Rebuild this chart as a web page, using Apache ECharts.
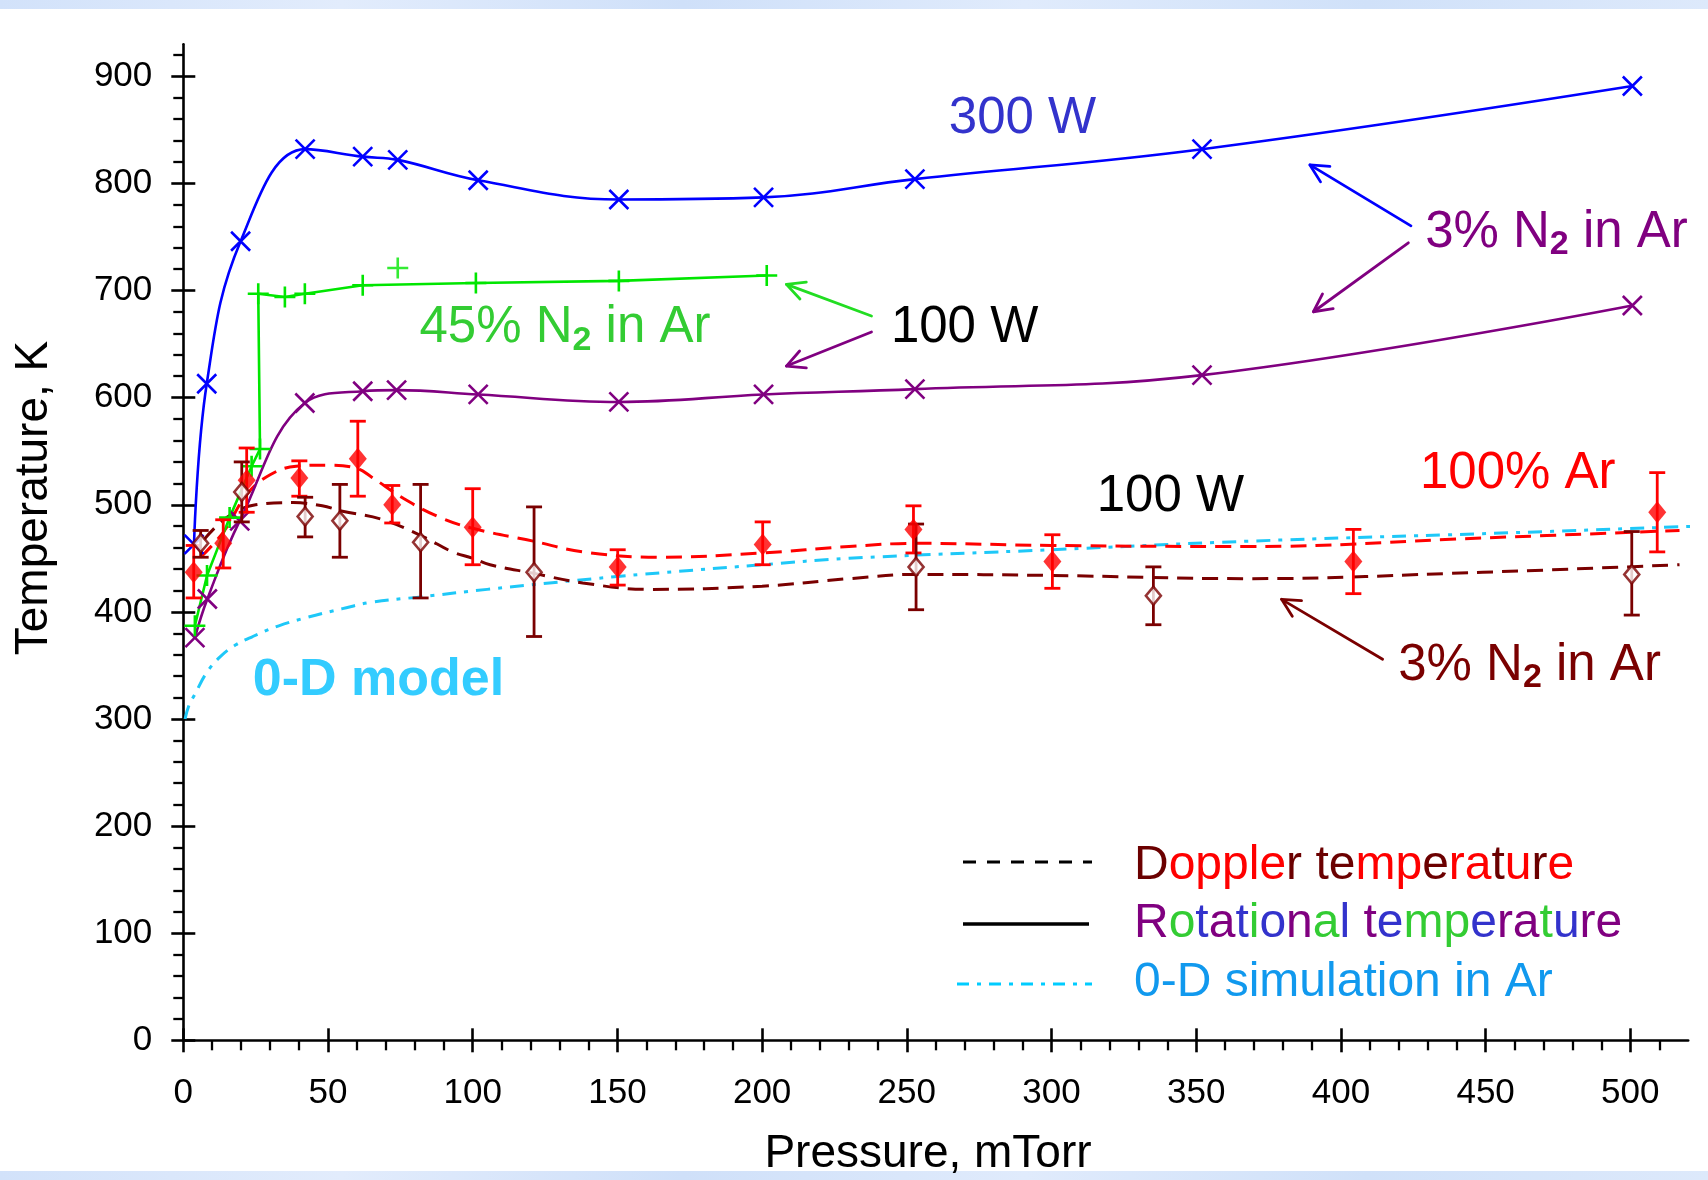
<!DOCTYPE html>
<html>
<head>
<meta charset="utf-8">
<title>Gas temperature vs pressure</title>
<script src="https://cdn.jsdelivr.net/npm/echarts@6/dist/echarts.min.js"></script>
<style>
  html, body { margin: 0; padding: 0; background: #fff; }
  #chart { width: 1708px; height: 1180px; }
</style>
</head>
<body>
<div id="chart"></div>
<script>
// ---- Axis ticks ----
const pressureTicks = [0, 50, 100, 150, 200, 250, 300, 350, 400, 450, 500];
const temperatureTicks = [0, 100, 200, 300, 400, 500, 600, 700, 800, 900];

// ---- Rotational temperature, 300 W, 3% N2 in Ar ----
const rot300Pressure = [3.7, 8.1, 19.8, 42.1, 62.0, 74.1, 101.9, 150.5, 200.5, 252.8, 352, 500.7];
const rot300Temp     = [463, 613, 746, 832, 825, 822, 803, 785, 787, 804, 832, 891];

// ---- Rotational temperature, 100 W, 3% N2 in Ar ----
const rot100Pressure = [4.0, 8.3, 19.5, 42.0, 62.0, 73.7, 101.9, 150.5, 200.5, 252.8, 352, 500.7];
const rot100Temp     = [376, 412, 485, 595, 606, 607, 603, 596, 603, 608, 621, 686];

// ---- Rotational temperature, 100 W, 45% N2 in Ar ----
const rot45Pressure = [4.0, 8.2, 16.0, 23.6, 26.5, 25.9, 35.1, 42.0, 62.0, 101.1, 150.5, 201.6];
const rot45Temp     = [387, 434, 488, 536, 552, 697, 694, 697, 705, 707, 709, 714];
const rot45ExtraPressure = [74.1];
const rot45ExtraTemp     = [721];

// ---- Doppler temperature, 100 W, 100% Ar (with error bars) ----
const dopArPressure = [3.6, 13.8, 21.9, 40.1, 60.3, 72.2, 100, 150.1, 200.2, 252.3, 300.3, 404.3, 509.3];
const dopArTemp     = [437, 464, 523, 525, 543, 500, 479, 442, 463, 477, 447, 447, 493];
const dopArLow      = [413, 441, 493, 508, 508, 483, 444, 425, 444, 455, 422, 417, 456];
const dopArHigh     = [462, 486, 553, 541, 578, 518, 515, 458, 484, 499, 472, 477, 530];

// ---- Doppler temperature, 100 W, 3% N2 in Ar (with error bars) ----
const dopN2Pressure = [6.0, 20.2, 42.1, 54.1, 82, 121.2, 253.2, 335.2, 500.5];
const dopN2Temp     = [464, 512, 489, 485, 465, 437, 442, 415, 435];
const dopN2Low      = [451, 484, 470, 451, 413, 377, 402, 388, 397];
const dopN2High     = [476, 540, 507, 519, 519, 498, 482, 442, 475];

// ---- Fitted trend curves for the Doppler data ----
const dopArFitPressure = [6, 14, 22, 30, 39, 50, 60, 65, 76, 88, 100, 121, 138, 164, 200, 230, 253, 300, 368, 449, 517];
const dopArFitTemp     = [451, 475, 510, 528, 536, 537, 534, 526, 506, 489, 478, 466, 456, 451, 455, 461, 464, 462, 461, 469, 476];
const dopN2FitPressure = [7, 15, 25, 38, 48, 55, 69, 83, 93, 100, 106, 121, 138, 161, 200, 230, 253, 300, 368, 449, 517];
const dopN2FitTemp     = [467, 488, 500, 502, 499, 494, 486, 470, 456, 450, 444, 436, 427, 421, 424, 431, 435, 434, 431, 437, 444];

// ---- 0-D model, Ar ----
const modelPressure = [0.6, 2, 4, 8, 12.7, 18, 24, 33, 43, 55, 65, 82, 105, 150, 200, 230, 300, 368, 449, 523];
const modelTemp     = [300, 313, 323, 343, 358, 369, 377, 387, 395, 403, 409, 414, 421, 433, 444, 450, 458, 466, 473, 480];

// ---- helpers ----
const FONT = '"Liberation Sans", Arial, Helvetica, sans-serif';
const zip = (xs, ys) => xs.map((x, i) => [x, ys[i]]);
const zip3 = (xs, a, b) => xs.map((x, i) => [x, a[i], b[i]]);

const C = {
  blue: '#0000ff', purple: '#800080', green: '#00e600', greenText: '#33cc33',
  red: '#ff0000', brown: '#7a0000', cyan: '#1ec8f8', cyanText: '#33ccff',
  cyanLegend: '#1199ee', w300: '#3333cc', ink: '#000000'
};

const crossSymbol = 'path://M0,0L10,10M10,0L0,10';
const plusSymbol = 'path://M5,0L5,10M0,5L10,5';

function errorBarSeries(name, data, color) {
  return {
    name, type: 'custom', z: 4,
    encode: { x: 0, y: [1, 2] },
    data,
    renderItem(params, api) {
      const x = api.value(0);
      const lo = api.coord([x, api.value(1)]);
      const hi = api.coord([x, api.value(2)]);
      const hw = 8;
      const st = { stroke: color, lineWidth: 2.8 };
      return {
        type: 'group',
        children: [
          { type: 'line', shape: { x1: lo[0], y1: lo[1], x2: hi[0], y2: hi[1] }, style: st },
          { type: 'line', shape: { x1: lo[0] - hw, y1: lo[1], x2: lo[0] + hw, y2: lo[1] }, style: st },
          { type: 'line', shape: { x1: hi[0] - hw, y1: hi[1], x2: hi[0] + hw, y2: hi[1] }, style: st }
        ]
      };
    }
  };
}

const axisBase = { type: 'value', splitLine: { show: false }, minorSplitLine: { show: false } };
const black = { color: '#000', width: 2.6 };

const option = {
  animation: false,
  backgroundColor: '#ffffff',
  grid: { left: 183.3, right: 19.8, top: 44.2, bottom: 139.7, containLabel: false },
  xAxis: [
    Object.assign({}, axisBase, {
      min: 0, max: 520, interval: 50, position: 'bottom',
      axisLine: { show: true, onZero: false, lineStyle: black },
      axisTick: { show: true, inside: false, length: 12, lineStyle: black, customValues: pressureTicks },
      minorTick: { show: true, splitNumber: 5, length: 10, lineStyle: { color: '#000', width: 2.3 } },
      axisLabel: { show: true, margin: 36, fontSize: 35, color: '#000', fontFamily: FONT, customValues: pressureTicks }
    }),
    Object.assign({}, axisBase, {
      min: 0, max: 520, interval: 50, position: 'bottom',
      axisLine: { show: false, onZero: false },
      axisTick: { show: true, inside: true, length: 12, lineStyle: black, customValues: pressureTicks },
      minorTick: { show: false },
      axisLabel: { show: false }
    })
  ],
  yAxis: [
    Object.assign({}, axisBase, {
      min: 0, max: 930, interval: 100, position: 'left',
      axisLine: { show: true, onZero: false, lineStyle: black },
      axisTick: { show: true, inside: false, length: 12, lineStyle: black, customValues: temperatureTicks },
      minorTick: { show: true, splitNumber: 5, length: 10, lineStyle: { color: '#000', width: 2.3 } },
      axisLabel: { show: true, margin: 31, fontSize: 35, color: '#000', fontFamily: FONT, customValues: temperatureTicks }
    }),
    Object.assign({}, axisBase, {
      min: 0, max: 930, interval: 100, position: 'left',
      axisLine: { show: false, onZero: false },
      axisTick: { show: true, inside: true, length: 12, lineStyle: black, customValues: temperatureTicks },
      minorTick: { show: false },
      axisLabel: { show: false }
    })
  ],
  series: [
    {
      name: '0-D simulation in Ar', type: 'line', z: 2, clip: false,
      data: zip(modelPressure, modelTemp), smooth: 0.4, showSymbol: false,
      lineStyle: { color: C.cyan, width: 3, type: [14, 8, 4, 8] }
    },
    {
      name: 'Doppler fit, 100% Ar', type: 'line', z: 2,
      data: zip(dopArFitPressure, dopArFitTemp), smooth: 0.4, showSymbol: false,
      lineStyle: { color: C.red, width: 3, type: [16, 9] }
    },
    {
      name: 'Doppler fit, 3% N2', type: 'line', z: 2,
      data: zip(dopN2FitPressure, dopN2FitTemp), smooth: 0.4, showSymbol: false,
      lineStyle: { color: C.brown, width: 3, type: [16, 9] }
    },
    {
      name: 'Rotational, 300 W, 3% N2', type: 'line', z: 3,
      data: zip(rot300Pressure, rot300Temp), smooth: 0.4,
      symbol: crossSymbol, symbolSize: 19, showAllSymbol: true,
      itemStyle: { color: 'rgba(0,0,0,0)', borderColor: C.blue, borderWidth: 2.6 },
      lineStyle: { color: C.blue, width: 2.6 }
    },
    {
      name: 'Rotational, 100 W, 3% N2', type: 'line', z: 3,
      data: zip(rot100Pressure, rot100Temp), smooth: 0.4,
      symbol: crossSymbol, symbolSize: 19, showAllSymbol: true,
      itemStyle: { color: 'rgba(0,0,0,0)', borderColor: C.purple, borderWidth: 2.6 },
      lineStyle: { color: C.purple, width: 2.6 }
    },
    {
      name: 'Rotational, 100 W, 45% N2', type: 'line', z: 3,
      data: zip(rot45Pressure, rot45Temp), smooth: false,
      symbol: plusSymbol, symbolSize: 21, showAllSymbol: true,
      itemStyle: { color: 'rgba(0,0,0,0)', borderColor: C.green, borderWidth: 2.6 },
      lineStyle: { color: C.green, width: 2.6 }
    },
    {
      name: 'Rotational, 100 W, 45% N2 (off trend)', type: 'scatter', z: 3,
      data: zip(rot45ExtraPressure, rot45ExtraTemp),
      symbol: plusSymbol, symbolSize: 21,
      itemStyle: { color: 'rgba(0,0,0,0)', borderColor: C.green, borderWidth: 2.6 }
    },
    errorBarSeries('Doppler error, 100% Ar', zip3(dopArPressure, dopArLow, dopArHigh), C.red),
    errorBarSeries('Doppler error, 3% N2', zip3(dopN2Pressure, dopN2Low, dopN2High), C.brown),
    {
      name: 'Doppler, 100% Ar', type: 'scatter', z: 5,
      data: zip(dopArPressure, dopArTemp),
      symbol: 'diamond', symbolSize: [18, 22],
      itemStyle: { color: C.red }
    },
    {
      name: 'Doppler, 3% N2', type: 'scatter', z: 5,
      data: zip(dopN2Pressure, dopN2Temp),
      symbol: 'diamond', symbolSize: [15, 18],
      itemStyle: { color: '#ffffff', borderColor: C.brown, borderWidth: 2.6 }
    }
  ]
};

const chart = echarts.init(document.getElementById('chart'), null, { renderer: 'canvas' });
chart.setOption(option);

// ---- annotations (anchored in data space) ----
const px = (p) => chart.convertToPixel({ gridIndex: 0 }, p);

function arrow(from, to, color) {
  const a = px(from), b = px(to);
  const ang = Math.atan2(b[1] - a[1], b[0] - a[0]);
  const L = 20, spread = 0.47;
  const p1 = [b[0] - L * Math.cos(ang - spread), b[1] - L * Math.sin(ang - spread)];
  const p2 = [b[0] - L * Math.cos(ang + spread), b[1] - L * Math.sin(ang + spread)];
  const st = { stroke: color, lineWidth: 2.8, fill: null, lineCap: 'round', lineJoin: 'round' };
  return [
    { type: 'line', z: 10, shape: { x1: a[0], y1: a[1], x2: b[0], y2: b[1] }, style: st },
    { type: 'polyline', z: 10, shape: { points: [p1, b, p2] }, style: st }
  ];
}

// label anchored at its left baseline
function label(anchor, text, color, fs, rich, weight) {
  const p = px(anchor);
  const style = {
    text, x: p[0], y: p[1] - 0.35 * fs, align: 'left', verticalAlign: 'middle',
    fontSize: fs, fontFamily: FONT, fontWeight: weight || 'normal', fill: color
  };
  if (rich) style.rich = rich;
  return { type: 'text', z: 11, style };
}

const LBL = 51;
function n2Rich(color) {
  return {
    m: { fontSize: LBL, fontFamily: FONT, fill: color },
    s: { fontSize: 34, fontFamily: FONT, fontWeight: 'bold', fill: color, padding: [24, 0, 0, 0] }
  };
}
const n2Text = (pct) => '{m|' + pct + '% N}{s|2}{m| in Ar}';

// multicolour legend words
const LEG = 48;
const legendRich = {
  b: { fontSize: LEG, fontFamily: FONT, fill: '#6b0000' },
  r: { fontSize: LEG, fontFamily: FONT, fill: '#ff0000' },
  p: { fontSize: LEG, fontFamily: FONT, fill: '#800080' },
  g: { fontSize: LEG, fontFamily: FONT, fill: '#33cc33' },
  u: { fontSize: LEG, fontFamily: FONT, fill: '#3333cc' }
};
// groups runs of equally coloured letters; a space joins the run before it
function paint(text, codes) {
  const runs = [];
  for (let i = 0; i < text.length; i++) {
    const ch = text[i];
    const code = ch === ' ' && runs.length ? runs[runs.length - 1].code : codes[i];
    if (runs.length && runs[runs.length - 1].code === code) runs[runs.length - 1].txt += ch;
    else runs.push({ code, txt: ch });
  }
  return runs.map(r => '{' + r.code + '|' + r.txt + '}').join('');
}
const dopplerText = paint('Doppler temperature', 'brrrrrb bbrrbrrbrbr');
const rotationalText = paint('Rotational temperature', 'pgupugupgu pugguppgupp');

const bandFill = () => new echarts.graphic.LinearGradient(0, 0, 1, 0, [
  { offset: 0, color: '#d2e2fa' }, { offset: 0.2, color: '#e2ecfc' }, { offset: 0.4, color: '#cfe0f9' },
  { offset: 0.6, color: '#e0ebfc' }, { offset: 0.8, color: '#d0e1f9' }, { offset: 1, color: '#dde9fb' }]);

const graphics = [
  // light textured bands at the top and bottom edges
  { type: 'rect', z: 0, shape: { x: 0, y: 0, width: 1708, height: 9 }, style: { fill: bandFill() } },
  { type: 'rect', z: 0, shape: { x: 0, y: 1171, width: 1708, height: 9 }, style: { fill: bandFill() } },

  // axis titles
  { type: 'text', z: 11, x: 34, y: 498, rotation: Math.PI / 2,
    style: { text: 'Temperature, K', align: 'center', verticalAlign: 'middle', fontSize: 46, fontFamily: FONT, fill: '#000' } },
  { type: 'text', z: 11,
    style: { text: 'Pressure, mTorr', x: 928, y: 1154, align: 'center', verticalAlign: 'middle', fontSize: 46, fontFamily: FONT, fill: '#000' } },

  // annotation labels
  label([264.5, 844], '300 W', C.w300, LBL),
  label([429.1, 737], n2Text(3), C.purple, LBL, n2Rich(C.purple)),
  label([244.5, 648], '100 W', C.ink, LBL),
  label([81.6, 648], n2Text(45), C.greenText, LBL, n2Rich(C.greenText)),
  label([315.6, 490.4], '100 W', C.ink, LBL),
  label([427.3, 512], '100% Ar', C.red, LBL),
  label([419.8, 333.3], n2Text(3), C.brown, LBL, n2Rich(C.brown)),
  label([24.0, 318.4], '0-D model', C.cyanText, 52, null, 'bold'),

  // legend samples
  { type: 'line', z: 11, shape: { x1: 963, y1: 862, x2: 1092, y2: 862 },
    style: { stroke: '#000', lineWidth: 3, lineDash: [13, 11] } },
  { type: 'line', z: 11, shape: { x1: 963, y1: 924, x2: 1089, y2: 924 },
    style: { stroke: '#000', lineWidth: 3.5 } },
  { type: 'line', z: 11, shape: { x1: 957, y1: 984, x2: 1092, y2: 984 },
    style: { stroke: '#00ccff', lineWidth: 3, lineDash: [12, 8, 4, 8] } },
  { type: 'text', z: 11, style: { text: dopplerText, rich: legendRich, x: 1134, y: 866, align: 'left', verticalAlign: 'middle', fontSize: LEG, fontFamily: FONT } },
  { type: 'text', z: 11, style: { text: rotationalText, rich: legendRich, x: 1134, y: 924, align: 'left', verticalAlign: 'middle', fontSize: LEG, fontFamily: FONT } },
  { type: 'text', z: 11, style: { text: '0-D simulation in Ar', x: 1134, y: 983, align: 'left', verticalAlign: 'middle', fontSize: LEG, fontFamily: FONT, fill: C.cyanLegend } }
]
  .concat(arrow([424.2, 760.4], [389.3, 817.3], C.blue))
  .concat(arrow([423.3, 744.6], [390.5, 680.2], C.purple))
  .concat(arrow([237.8, 676.2], [208.4, 705.8], '#22dd22'))
  .concat(arrow([237.8, 661.3], [208.4, 629.5], C.purple))
  .concat(arrow([414.4, 355.7], [379.5, 411.7], C.brown));

chart.setOption({ graphic: graphics });
</script>
</body>
</html>
